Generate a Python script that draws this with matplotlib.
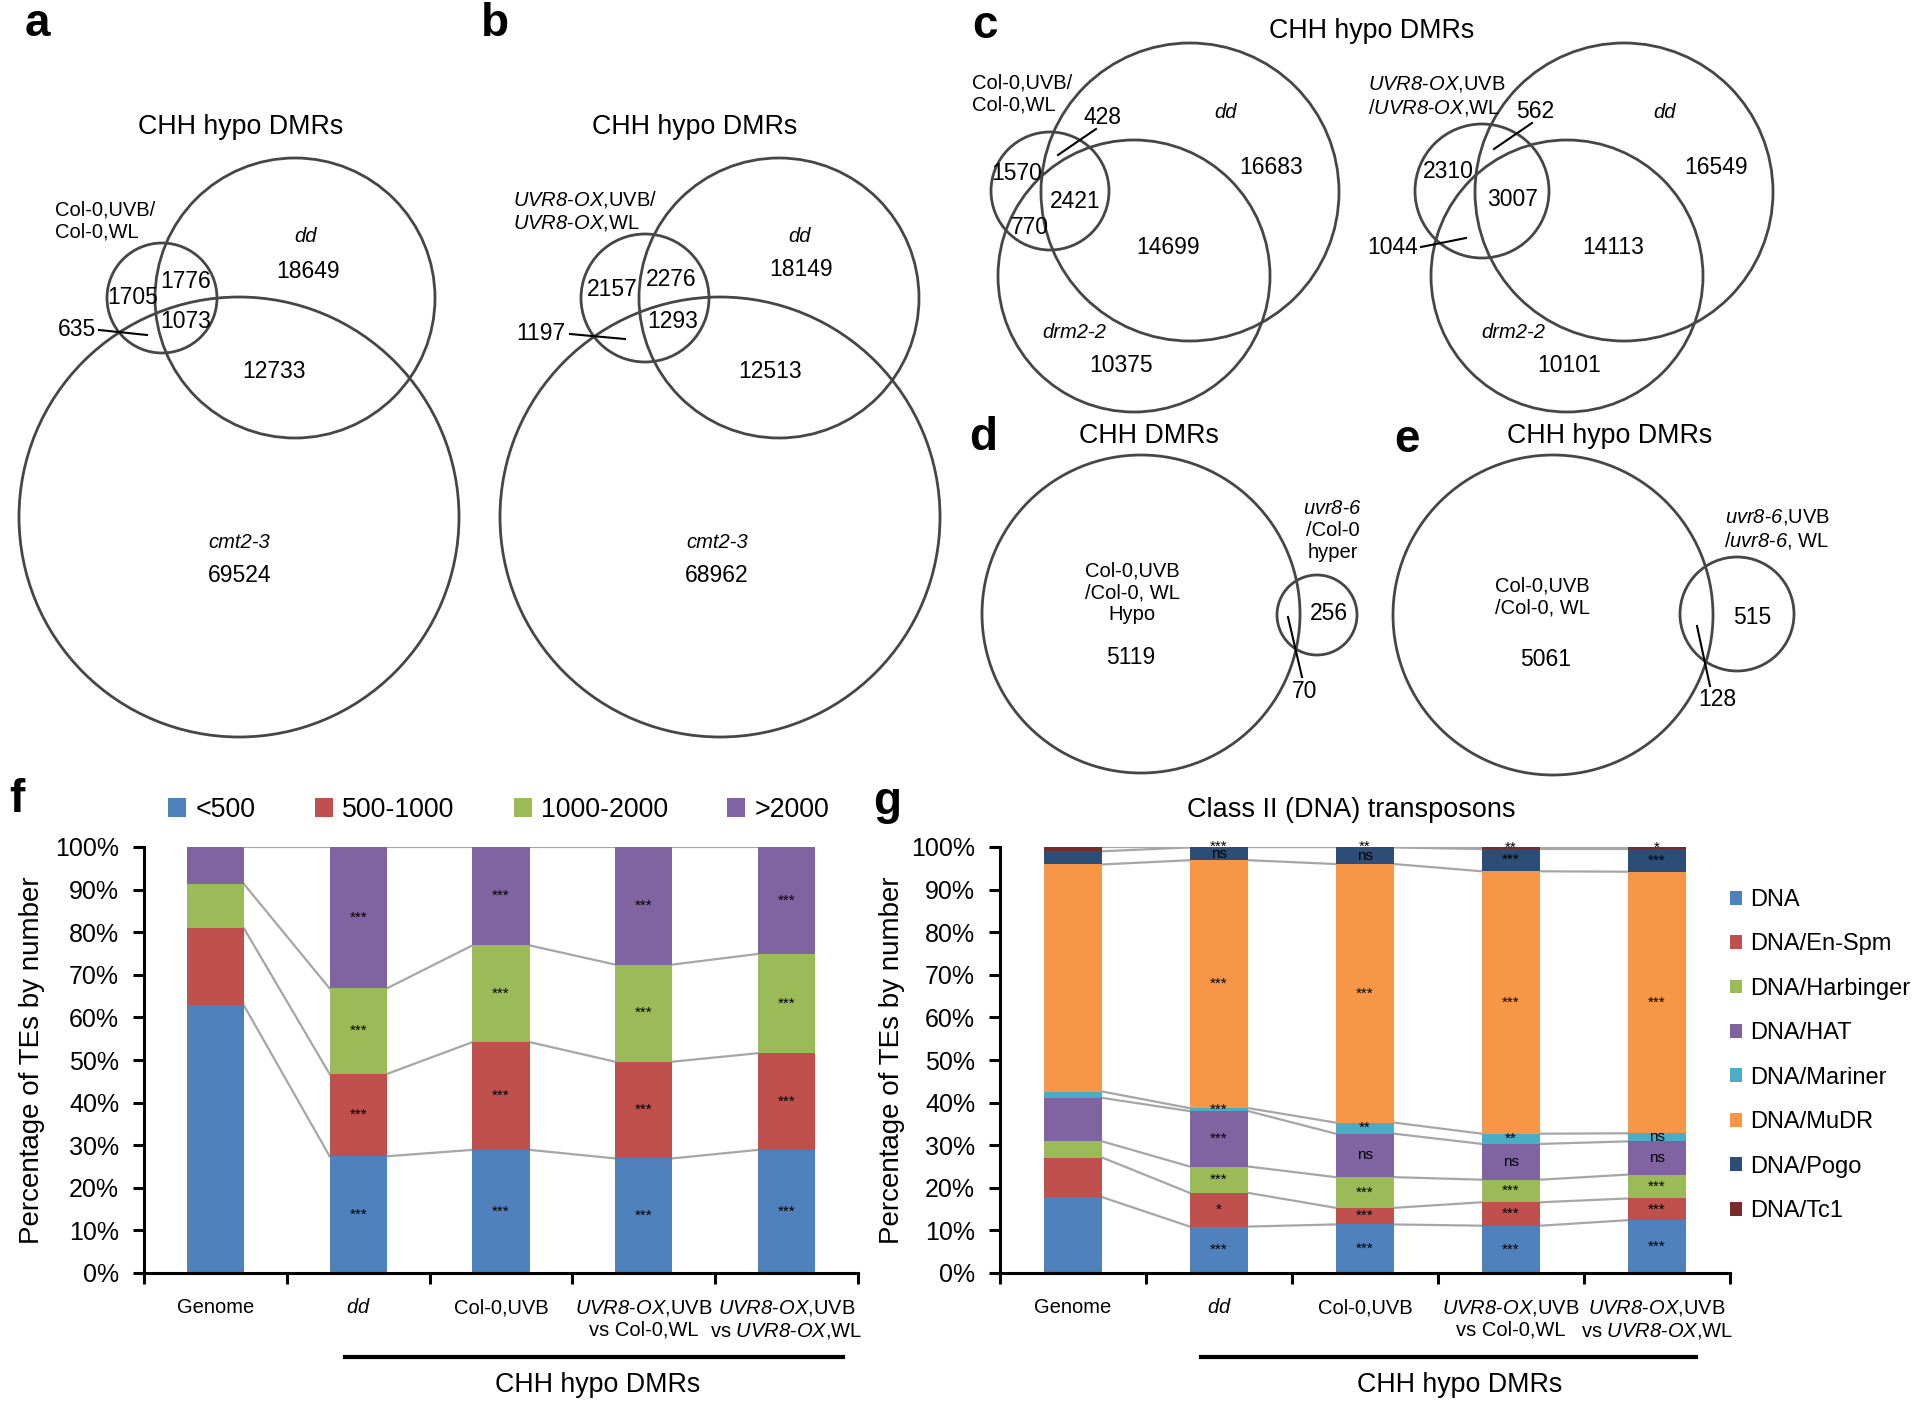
import numpy as np
import matplotlib.pyplot as plt
from matplotlib.patches import Circle

plt.rcParams['font.family'] = ['Liberation Sans', 'DejaVu Sans']
plt.rcParams['mathtext.fontset'] = 'custom'
plt.rcParams['mathtext.rm'] = 'Liberation Sans'
# \mathsf is used for italic gene names so digits stay italic too
plt.rcParams['mathtext.sf'] = 'Liberation Sans:italic'
plt.rcParams['mathtext.it'] = 'Liberation Sans:italic'
plt.rcParams['mathtext.bf'] = 'Liberation Sans:bold'

# Venn counts (region order follows the label positions used below)
venn_a = [1705, 1776, 1073, 635, 18649, 12733, 69524]
venn_b = [2157, 2276, 1293, 1197, 18149, 12513, 68962]
venn_c1 = [1570, 428, 2421, 770, 16683, 14699, 10375]
venn_c2 = [2310, 562, 3007, 1044, 16549, 14113, 10101]
venn_d = [5119, 70, 256]
venn_e = [5061, 128, 515]

OX = r'$\mathsf{UVR8}$-$\mathsf{OX}$'
UV6 = r'$\mathsf{uvr8}$-$\mathsf{6}$'

# bar groups (shared by f and g)
groups = ['Genome', r'$\mathsf{dd}$', 'Col-0,UVB',
          OX + ',UVB\nvs Col-0,WL',
          OX + ',UVB\nvs ' + OX + ',WL']

# f: TE length classes (% of TEs)
len_names = ['<500', '500-1000', '1000-2000', '>2000']
len_lt500 = [62.8, 27.4, 28.9, 26.9, 28.9]
len_500_1000 = [18.1, 19.3, 25.3, 22.7, 22.7]
len_1000_2000 = [10.4, 20.1, 22.7, 22.8, 23.3]
len_gt2000 = [8.7, 33.2, 23.1, 27.6, 25.1]
len_sig = ['', '***', '***', '***', '***']

# g: class II families (% of TEs)
fam_names = ['DNA', 'DNA/En-Spm', 'DNA/Harbinger', 'DNA/HAT', 'DNA/Mariner',
             'DNA/MuDR', 'DNA/Pogo', 'DNA/Tc1']
te_DNA = [17.8, 10.9, 11.4, 11.1, 12.4]
te_EnSpm = [9.3, 7.9, 3.9, 5.5, 5.1]
te_Harbinger = [3.8, 6.2, 7.2, 5.3, 5.6]
te_HAT = [10.2, 13.0, 10.2, 8.4, 7.8]
te_Mariner = [1.5, 0.7, 2.6, 2.4, 1.9]
te_MuDR = [53.3, 58.2, 60.7, 61.6, 61.4]
te_Pogo = [3.1, 3.0, 3.9, 5.2, 5.3]
te_Tc1 = [1.0, 0.1, 0.1, 0.5, 0.5]
sig_DNA = ['', '***', '***', '***', '***']
sig_EnSpm = ['', '*', '***', '***', '***']
sig_Harbinger = ['', '***', '***', '***', '***']
sig_HAT = ['', '***', 'ns', 'ns', 'ns']
sig_Mariner = ['', '***', '**', '**', 'ns']
sig_MuDR = ['', '***', '***', '***', '***']
sig_Pogo = ['', 'ns', 'ns', '***', '***']
sig_Tc1 = ['', '***', '**', '**', '*']

W, H = 1920, 1403
fig = plt.figure(figsize=(W / 100, H / 100), dpi=100)

# pixel canvas for the venn diagrams and free text
cv = fig.add_axes([0, 0, 1, 1])
cv.set_xlim(0, W)
cv.set_ylim(H, 0)
cv.axis('off')

EDGE = '#464646'


def circles(spec):
    for cx, cy, r in spec:
        cv.add_patch(Circle((cx, cy), r, fill=False, ec=EDGE, lw=2.0))


def nums(values, pos, size=16.5):
    for v, (x, y) in zip(values, pos):
        cv.text(x, y, str(v), ha='center', va='center', fontsize=size)


def leader(x0, y0, x1, y1):
    cv.plot([x0, x1], [y0, y1], color='black', lw=1.5)


def txt(x, y, s, size=14.5, ha='center', **kw):
    cv.text(x, y, s, fontsize=size, ha=ha, va='center', linespacing=1.2, **kw)


def panel(x, y, s):
    cv.text(x, y, s, fontsize=33, fontweight='bold', ha='center', va='center')


# ---- a ----
panel(37, 24, 'a')
txt(241, 127, 'CHH hypo DMRs', 19.3)
circles([(162, 298, 55), (295, 298, 140), (239, 517, 220)])
txt(55, 221, 'Col-0,UVB/\nCol-0,WL', ha='left')
txt(306, 237, 'dd', style='italic')
txt(239, 542, 'cmt2-3', style='italic')
nums(venn_a, [(133, 297), (186, 281), (186, 321), (77, 329),
              (308, 271), (274, 371), (240, 575)])
leader(99, 330, 147, 335)

# ---- b ----
panel(495, 24, 'b')
txt(695, 127, 'CHH hypo DMRs', 19.3)
circles([(645, 298, 64), (779, 298, 140), (720, 517, 220)])
txt(513, 211, OX + ',UVB/\n' + OX + ',WL', ha='left')
txt(800, 236, 'dd', style='italic')
txt(717, 542, 'cmt2-3', style='italic')
nums(venn_b, [(612, 290), (671, 279), (673, 321), (541, 334),
              (801, 270), (770, 371), (717, 575)])
leader(570, 334, 625, 339)

# ---- c ----
panel(985, 26, 'c')
txt(1372, 31, 'CHH hypo DMRs', 19.3)
circles([(1050, 191, 59), (1190, 192, 149), (1134, 276, 136)])
txt(972, 94, 'Col-0,UVB/\nCol-0,WL', ha='left')
txt(1226, 112, 'dd', style='italic')
txt(1074, 332, 'drm2-2', style='italic')
nums(venn_c1, [(1017, 174), (1102, 117), (1075, 201), (1030, 228),
               (1271, 167), (1168, 247), (1121, 365)])
leader(1096, 129, 1058, 155)

circles([(1482, 191, 67), (1624, 192, 149), (1567, 276, 136)])
txt(1368, 96, OX + ',UVB\n/' + OX + ',WL', ha='left')
txt(1665, 112, 'dd', style='italic')
txt(1513, 332, 'drm2-2', style='italic')
nums(venn_c2, [(1448, 171), (1535, 111), (1513, 200), (1393, 247),
               (1716, 167), (1613, 247), (1569, 365)])
leader(1532, 123, 1494, 149)
leader(1421, 247, 1466, 238)

# ---- d ----
panel(983, 438, 'd')
txt(1149, 436, 'CHH DMRs', 19.3)
circles([(1141, 614, 159), (1317, 615, 40)])
txt(1333, 530, UV6 + '\n/Col-0\nhyper')
txt(1132, 593, 'Col-0,UVB\n/Col-0, WL\nHypo')
nums(venn_d, [(1131, 658), (1305, 692), (1329, 613)])
leader(1288, 617, 1302, 677)

# ---- e ----
panel(1407, 440, 'e')
txt(1610, 436, 'CHH hypo DMRs', 19.3)
circles([(1553, 615, 160), (1737, 614, 57)])
txt(1777, 529, UV6 + ',UVB\n/' + UV6 + ', WL')
txt(1542, 597, 'Col-0,UVB\n/Col-0, WL')
nums(venn_e, [(1546, 659), (1717, 700), (1752, 618)])
leader(1697, 626, 1710, 686)


# ---- stacked bar panels ----
def bar_panel(rect, series, colors, sigs):
    ax = fig.add_axes(rect)
    x = np.arange(len(groups))
    w = 0.4
    bottom = np.zeros(len(groups))
    handles = []
    for vals, col, sig in zip(series, colors, sigs):
        vals = np.asarray(vals, dtype=float)
        h = ax.bar(x, vals, w, bottom=bottom, color=col, linewidth=0, zorder=2)
        handles.append(h)
        for xi, b, v, s in zip(x, bottom, vals, sig):
            if s:
                ax.text(xi, b + v / 2, s, ha='center', va='center', fontsize=11, zorder=4)
        bottom = bottom + vals
        for i in range(len(x) - 1):
            ax.plot([x[i] + w / 2, x[i + 1] - w / 2], [bottom[i], bottom[i + 1]],
                    color='#a6a6a6', lw=1.6, zorder=1)
    ax.set_xlim(-0.5, len(groups) - 0.5)
    ax.set_ylim(0, 100)
    ax.patch.set_visible(False)
    for s in ['top', 'right']:
        ax.spines[s].set_visible(False)
    for s in ['left', 'bottom']:
        ax.spines[s].set_linewidth(2.2)
    ax.set_yticks(np.arange(0, 101, 10))
    ax.set_yticklabels([f'{v}%' for v in range(0, 101, 10)])
    ax.tick_params(axis='y', length=8, width=2.2, labelsize=18, pad=10)
    ax.set_xticks(x)
    ax.set_xticklabels(groups, fontsize=14.5)
    ax.tick_params(axis='x', which='major', length=0, pad=18)
    ax.set_xticks(np.arange(-0.5, len(groups), 1), minor=True)
    ax.tick_params(axis='x', which='minor', length=8, width=2.2)
    ax.set_ylabel('Percentage of TEs by number', fontsize=20)
    return ax, handles


def frac(left, top, right, bottom):
    return [left / W, 1 - bottom / H, (right - left) / W, (bottom - top) / H]


# ---- f ----
panel(17, 800, 'f')
axf, hf = bar_panel(frac(144, 847, 858, 1273),
                    [len_lt500, len_500_1000, len_1000_2000, len_gt2000],
                    ['#4f81bd', '#c0504d', '#9bbb59', '#8064a2'],
                    [len_sig] * 4)
axf.yaxis.set_label_coords(-0.139, 0.5)
fig.legend(hf, len_names, loc='center left', bbox_to_anchor=(168 / W, 1 - 810 / H),
           ncol=4, frameon=False, fontsize=19.3, handlelength=0.68, handleheight=0.68,
           handletextpad=0.35, columnspacing=2.2, borderpad=0, borderaxespad=0)
cv.plot([345, 843], [1357, 1357], color='black', lw=3)
txt(598, 1385, 'CHH hypo DMRs', 19.3)

# ---- g ----
panel(887, 802, 'g')
txt(1351, 810, 'Class II (DNA) transposons', 19.5)
axg, hg = bar_panel(frac(1000, 847, 1730, 1273),
                    [te_DNA, te_EnSpm, te_Harbinger, te_HAT, te_Mariner, te_MuDR, te_Pogo, te_Tc1],
                    ['#4f81bd', '#c0504d', '#9bbb59', '#8064a2', '#4bacc6', '#f79646', '#2c4d75', '#772c2a'],
                    [sig_DNA, sig_EnSpm, sig_Harbinger, sig_HAT, sig_Mariner, sig_MuDR, sig_Pogo, sig_Tc1])
axg.yaxis.set_label_coords(-0.130, 0.5)
fig.legend(hg, fam_names, loc='upper left', bbox_to_anchor=(1730 / W, 1 - 889 / H),
           ncol=1, frameon=False, fontsize=17, handlelength=0.52, handleheight=0.52,
           handletextpad=0.35, labelspacing=0.95, borderpad=0, borderaxespad=0)
cv.plot([1201, 1696], [1357, 1357], color='black', lw=3)
txt(1460, 1385, 'CHH hypo DMRs', 19.3)

fig.savefig('out.png', dpi=100)
